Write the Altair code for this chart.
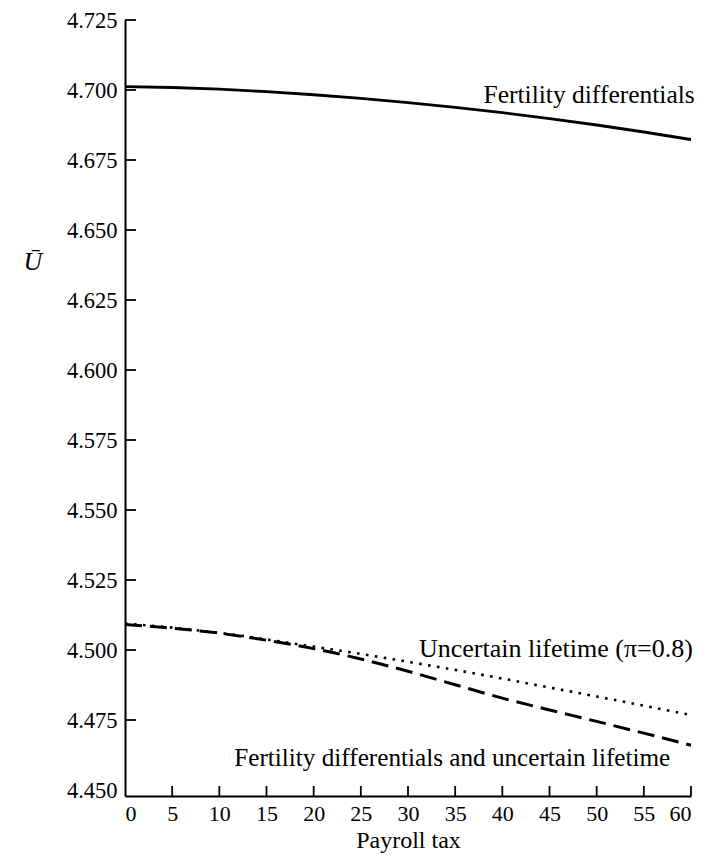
import altair as alt
import pandas as pd

# Payroll tax rate (percent)
tax = [0, 5, 10, 15, 20, 25, 30, 35, 40, 45, 50, 55, 60]

# Average utility under each scenario
fertility = [4.7012, 4.7009, 4.7003, 4.6994, 4.6983, 4.6970, 4.6955,
             4.6938, 4.6919, 4.6898, 4.6875, 4.6850, 4.6823]
uncertain = [4.5094, 4.5080, 4.5061, 4.5038, 4.5012, 4.4986, 4.4958,
             4.4929, 4.4898, 4.4866, 4.4834, 4.4801, 4.4768]
combined = [4.5091, 4.5078, 4.5060, 4.5035, 4.5005, 4.4968, 4.4924,
            4.4876, 4.4828, 4.4786, 4.4745, 4.4703, 4.4660]

x_ticks = [0, 5, 10, 15, 20, 25, 30, 35, 40, 45, 50, 55, 60]
y_ticks = [4.450, 4.475, 4.500, 4.525, 4.550, 4.575, 4.600, 4.625,
           4.650, 4.675, 4.700, 4.725]

FONT = "Liberation Serif"
W, H = 566, 776

df = pd.DataFrame({"tax": tax, "fert": fertility, "unc": uncertain, "both": combined})

x_scale = alt.Scale(domain=[0, 60], nice=False, zero=False)
# the horizontal axis sits a little below the 4.450 tick
y_scale = alt.Scale(domain=[4.44786, 4.725], nice=False, zero=False)

x_axis = alt.Axis(values=x_ticks, ticks=False, grid=False, title="Payroll tax",
                  labelPadding=7, titlePadding=4, format="d", labelFontSize=22)
y_axis = alt.Axis(values=y_ticks, ticks=False, grid=False, title=None,
                  format=".3f", labelPadding=8, labelFontSize=22.5)


def xenc(field="tax"):
    return alt.X(f"{field}:Q", scale=x_scale, axis=x_axis)


def yenc(field):
    return alt.Y(f"{field}:Q", scale=y_scale, axis=y_axis)


base = alt.Chart(df)

line_fert = base.mark_line(color="black", strokeWidth=2.8, interpolate="monotone").encode(
    x=xenc(), y=yenc("fert"))
line_unc = base.mark_line(color="black", strokeWidth=2.6, strokeDash=[2.6, 6.4],
                          interpolate="monotone").encode(x=xenc(), y=yenc("unc"))
line_both = base.mark_line(color="black", strokeWidth=3, strokeDash=[17, 8],
                           interpolate="monotone").encode(x=xenc(), y=yenc("both"))

# inward-pointing ticks
xt = alt.Chart(pd.DataFrame({"tax": x_ticks[1:]})).mark_rule(color="black", strokeWidth=1.8).encode(
    x=xenc(), y=alt.value(H), y2=alt.value(H - 10))
yt = alt.Chart(pd.DataFrame({"U": y_ticks[1:]})).mark_rule(color="black", strokeWidth=1.8).encode(
    y=yenc("U"), x=alt.value(0), x2=alt.value(11))


def label(text, xval, yval, size):
    return alt.Chart(pd.DataFrame({"t": [text]})).mark_text(
        font=FONT, fontSize=size, align="right", baseline="alphabetic", color="black"
    ).encode(x=alt.datum(xval, scale=x_scale), y=alt.datum(yval, scale=y_scale), text="t:N")


lab1 = label("Fertility differentials", 60.4, 4.6954, 25.5)
lab2 = label("Uncertain lifetime (\u03c0=0.8)", 60.2, 4.4975, 26)
lab3 = label("Fertility differentials and uncertain lifetime", 57.8, 4.4586, 25.2)

ytitle = alt.Chart(pd.DataFrame({"t": ["\u016a"]})).mark_text(
    font=FONT, fontSize=26, fontStyle="italic", align="center", baseline="middle", color="black"
).encode(x=alt.value(-92), y=alt.value(242), text="t:N")

chart = alt.layer(line_fert, line_unc, line_both, xt, yt, lab1, lab2, lab3, ytitle).properties(
    width=W, height=H,
    autosize=alt.AutoSizeParams(type="none"),
    padding={"left": 125, "top": 20, "right": 19, "bottom": 61},
    background="white",
).configure_view(stroke=None).configure_axis(
    domainColor="black", domainWidth=2, labelFont=FONT,
    labelColor="black", titleFont=FONT, titleFontSize=24, titleFontWeight="normal",
    titleColor="black",
)

chart.save("out.html", embed_options={"renderer": "svg", "actions": False})
